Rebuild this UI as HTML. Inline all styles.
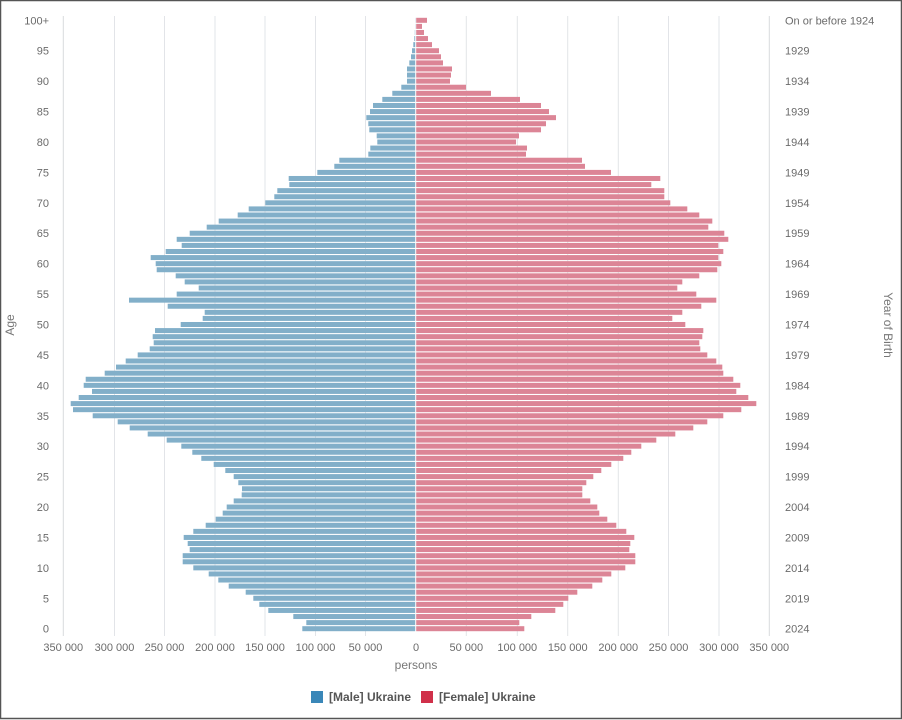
<!DOCTYPE html>
<html><head><meta charset="utf-8"><style>
html,body{margin:0;padding:0;background:#fff;}
body{width:902px;height:720px;overflow:hidden;}
svg{display:block;font-family:"Liberation Sans",Arial,sans-serif;}
</style></head><body>
<svg id="s" width="902" height="720" viewBox="0 0 902 720" xmlns="http://www.w3.org/2000/svg">
<rect x="0.5" y="0.5" width="901" height="718" fill="#fff" stroke="#555" stroke-width="1.5"/>
<g id="grid" stroke="#e2e4e8" stroke-width="1"></g>
<g id="bars"></g>
<line x1="415.7" y1="16" x2="415.7" y2="636" stroke="#fff" stroke-width="1"/>
<g id="labels" font-size="11" fill="#6b6b6b"></g>
<text x="416" y="669" font-size="12" fill="#777" text-anchor="middle">persons</text>
<text transform="translate(14,325) rotate(-90)" font-size="12" fill="#777" text-anchor="middle">Age</text>
<text transform="translate(884,325) rotate(90)" font-size="12" fill="#777" text-anchor="middle">Year of Birth</text>
<rect x="311" y="691" width="12" height="12" fill="#3a87b8"/>
<text x="329" y="701" font-size="12" font-weight="bold" fill="#555">[Male] Ukraine</text>
<rect x="421" y="691" width="12" height="12" fill="#d0304a"/>
<text x="439" y="701" font-size="12" font-weight="bold" fill="#555">[Female] Ukraine</text>
</svg>
<script>
var NS="http://www.w3.org/2000/svg";
function el(t,a,p,txt){var e=document.createElementNS(NS,t);for(var k in a)e.setAttribute(k,a[k]);if(txt!==undefined)e.textContent=txt;p.appendChild(e);return e;}
var M={100:415,99:415,98:414.8,97:414.3,96:413.3,95:412,94:411,93:409.3,92:407,91:407,90:407,89:401.3,88:392.3,87:382.3,86:373,85:370,84:366.3,83:368.3,82:369.3,81:376.7,80:377.3,79:370.3,78:368.3,77:339.3,76:334.3,75:317.3,74:288.7,73:289.3,72:277.3,71:274.3,70:265.3,69:248.7,68:237.7,67:218.7,66:206.7,65:189.7,64:176.7,63:181.7,62:165.7,61:150.7,60:155.7,59:156.7,58:175.7,57:184.7,56:198.7,55:176.7,54:129,53:167.7,52:204.7,51:202.7,50:180.7,49:155,48:152.7,47:153.7,46:149.7,45:137.7,44:125.7,43:116,42:104.7,41:85.7,40:83.7,39:92,38:78.7,37:70.7,36:73,35:92.7,34:117.7,33:129.7,32:147.7,31:166.7,30:181.3,29:192.3,28:201.3,27:213.7,26:225.3,25:233.7,24:238.3,23:242,22:241.7,21:233.7,20:226.7,19:222.7,18:215.7,17:205.7,16:193.3,15:183.7,14:187.7,13:189.7,12:182.7,11:182.7,10:193.3,9:208.7,8:218.3,7:228.7,6:245.7,5:253.3,4:259.3,3:268.3,2:293.3,1:306.3,0:302.3};
var F={100:427,99:422,98:424,97:428,96:432,95:439,94:441,93:443,92:452,91:451,90:450,89:466,88:491,87:520,86:541,85:549,84:556,83:546,82:541,81:519,80:516,79:527,78:526,77:582,76:585,75:611,74:660.3,73:651.3,72:664.3,71:664.3,70:670.3,69:687.3,68:699.3,67:712.3,66:708.3,65:724.3,64:728.3,63:718.3,62:723.3,61:718.3,60:721.3,59:717.3,58:699.3,57:682.3,56:677.3,55:696.3,54:716.3,53:701.3,52:682.3,51:672.3,50:685.3,49:703.3,48:702.3,47:699.3,46:700.3,45:707.3,44:716.3,43:722.3,42:723.3,41:733.3,40:740.3,39:736.3,38:748.3,37:756.3,36:741.3,35:723.3,34:707.3,33:693.3,32:675.3,31:656.3,30:641.3,29:631.3,28:623.3,27:611.3,26:601.3,25:593.3,24:586.3,23:582.3,22:582.3,21:590.3,20:597.3,19:599.3,18:607.3,17:616.3,16:626.3,15:634.3,14:630.3,13:629.3,12:635.3,11:635.3,10:625.3,9:611.3,8:602.3,7:592.3,6:577.3,5:568.3,4:563.3,3:555.3,2:531.3,1:519.3,0:524.3};
var C=415.7,g=document.getElementById('grid'),b=document.getElementById('bars'),L=document.getElementById('labels');
var gx=[63.3,114.5,164.5,215,265,315.5,365.5,466.3,517.3,567.7,618.3,668.5,719,769.3];
gx.forEach(function(x,i){el('line',{x1:x,y1:16,x2:x,y2:636,stroke:(i==0||i==13)?'#d8dade':'#e2e4e8'},g);});
function yc(a){return 628.7-a*6.084;}
for(var a=0;a<=100;a++){var y=yc(a)-2.5;
 if(M[a]<C-0.3)el('rect',{x:M[a],y:y,width:C-M[a],height:5,fill:'#82afc9'},b);
 el('rect',{x:C,y:y,width:F[a]-C,height:5,fill:'#dc8596'},b);}
for(var a=0;a<=100;a+=5){var y=yc(a)+4;
 el('text',{x:49,y:y,'text-anchor':'end'},L,a==100?'100+':String(a));
 el('text',{x:785,y:y},L,a==100?'On or before 1924':String(2024-a));}
var xl=['350 000','300 000','250 000','200 000','150 000','100 000','50 000','0','50 000','100 000','150 000','200 000','250 000','300 000','350 000'];
var xs=[63.3,114.5,164.5,215,265,315.5,365.5,416,466.3,517.3,567.7,618.3,668.5,719,769.3];
xs.forEach(function(x,i){el('text',{x:x,y:651,'text-anchor':'middle'},L,xl[i]);});
</script>
</body></html>
